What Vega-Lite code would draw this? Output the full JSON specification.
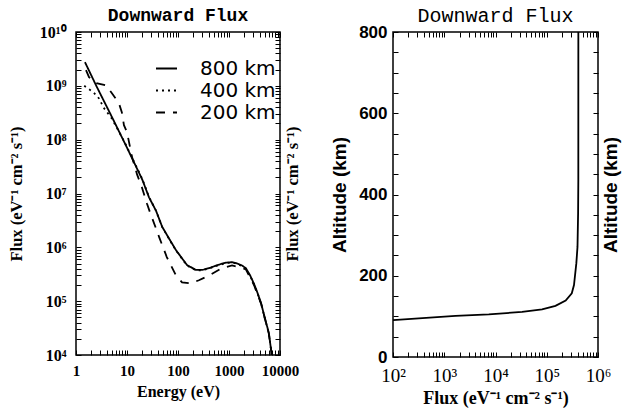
{
  "$schema": "https://vega.github.io/schema/vega-lite/v6.json",
  "background": "white",
  "padding": {"left": 7, "top": 5, "right": 5, "bottom": 5},
  "spacing": 113,
  "bounds": "flush",
  "config": {
    "view": {"stroke": "black", "strokeWidth": 1.5},
    "axis": {"grid": false, "ticks": true, "domain": false, "offset": -5, "tickSize": 5, "tickColor": "black", "tickWidth": 1, "labelColor": "black", "titleColor": "black", "labelOverlap": false, "labelFlush": false}
  },
  "hconcat": [
    {
      "title": {"text": "Downward Flux", "font": "Liberation Mono", "fontSize": 18, "fontWeight": "bold", "offset": -1, "color": "black"},
      "width": 204,
      "height": 323,
      "data": {"values": [
        {"s": "800 km", "e": 1.5, "f": 2.75e9},
        {"s": "800 km", "e": 2.5, "f": 1.0e9},
        {"s": "800 km", "e": 5, "f": 2.7e8},
        {"s": "800 km", "e": 10, "f": 7.1e7},
        {"s": "800 km", "e": 20, "f": 1.8e7},
        {"s": "800 km", "e": 27, "f": 8.5e6},
        {"s": "800 km", "e": 37, "f": 4.8e6},
        {"s": "800 km", "e": 49, "f": 2.4e6},
        {"s": "800 km", "e": 70, "f": 1.35e6},
        {"s": "800 km", "e": 91, "f": 8.9e5},
        {"s": "800 km", "e": 150, "f": 4.7e5},
        {"s": "800 km", "e": 224, "f": 3.8e5},
        {"s": "800 km", "e": 300, "f": 3.8e5},
        {"s": "800 km", "e": 407, "f": 4.1e5},
        {"s": "800 km", "e": 600, "f": 4.7e5},
        {"s": "800 km", "e": 870, "f": 5.2e5},
        {"s": "800 km", "e": 1150, "f": 5.3e5},
        {"s": "800 km", "e": 1380, "f": 5.1e5},
        {"s": "800 km", "e": 1800, "f": 4.6e5},
        {"s": "800 km", "e": 2140, "f": 4.1e5},
        {"s": "800 km", "e": 2600, "f": 3.0e5},
        {"s": "800 km", "e": 3090, "f": 2.1e5},
        {"s": "800 km", "e": 3600, "f": 1.45e5},
        {"s": "800 km", "e": 4270, "f": 9.1e4},
        {"s": "800 km", "e": 5000, "f": 5.0e4},
        {"s": "800 km", "e": 6030, "f": 2.6e4},
        {"s": "800 km", "e": 6900, "f": 1.0e4},
        {"s": "800 km", "e": 7300, "f": 6.0e3},
        {"s": "400 km", "e": 1.45, "f": 1.0e9},
        {"s": "400 km", "e": 2.2, "f": 7.6e8},
        {"s": "400 km", "e": 2.8, "f": 5.9e8},
        {"s": "400 km", "e": 3.5, "f": 3.9e8},
        {"s": "400 km", "e": 5, "f": 2.5e8},
        {"s": "400 km", "e": 7, "f": 1.4e8},
        {"s": "400 km", "e": 10, "f": 7.3e7},
        {"s": "400 km", "e": 20, "f": 1.85e7},
        {"s": "400 km", "e": 27, "f": 8.6e6},
        {"s": "400 km", "e": 37, "f": 4.8e6},
        {"s": "400 km", "e": 49, "f": 2.4e6},
        {"s": "400 km", "e": 70, "f": 1.33e6},
        {"s": "400 km", "e": 91, "f": 8.8e5},
        {"s": "400 km", "e": 150, "f": 4.6e5},
        {"s": "400 km", "e": 224, "f": 3.75e5},
        {"s": "400 km", "e": 300, "f": 3.75e5},
        {"s": "400 km", "e": 407, "f": 4.05e5},
        {"s": "400 km", "e": 600, "f": 4.6e5},
        {"s": "400 km", "e": 870, "f": 5.1e5},
        {"s": "400 km", "e": 1150, "f": 5.2e5},
        {"s": "400 km", "e": 1380, "f": 5.0e5},
        {"s": "400 km", "e": 1800, "f": 4.5e5},
        {"s": "400 km", "e": 2140, "f": 4.0e5},
        {"s": "400 km", "e": 2600, "f": 2.95e5},
        {"s": "400 km", "e": 3090, "f": 2.05e5},
        {"s": "400 km", "e": 3600, "f": 1.42e5},
        {"s": "400 km", "e": 4270, "f": 9.0e4},
        {"s": "400 km", "e": 5000, "f": 4.9e4},
        {"s": "400 km", "e": 6030, "f": 2.55e4},
        {"s": "400 km", "e": 6900, "f": 1.0e4},
        {"s": "400 km", "e": 7300, "f": 6.0e3},
        {"s": "200 km", "e": 1.57, "f": 1.95e9},
        {"s": "200 km", "e": 1.8, "f": 1.45e9},
        {"s": "200 km", "e": 2.51, "f": 1.12e9},
        {"s": "200 km", "e": 3.89, "f": 1.02e9},
        {"s": "200 km", "e": 4.9, "f": 7.6e8},
        {"s": "200 km", "e": 6.92, "f": 4.8e8},
        {"s": "200 km", "e": 7.94, "f": 3.2e8},
        {"s": "200 km", "e": 8.71, "f": 1.86e8},
        {"s": "200 km", "e": 10, "f": 1.38e8},
        {"s": "200 km", "e": 12.6, "f": 4.7e7},
        {"s": "200 km", "e": 15.8, "f": 2.24e7},
        {"s": "200 km", "e": 19.5, "f": 1.32e7},
        {"s": "200 km", "e": 24.5, "f": 6.6e6},
        {"s": "200 km", "e": 28.2, "f": 4.5e6},
        {"s": "200 km", "e": 42.7, "f": 1.55e6},
        {"s": "200 km", "e": 60.3, "f": 6.6e5},
        {"s": "200 km", "e": 91.2, "f": 3.0e5},
        {"s": "200 km", "e": 120, "f": 2.24e5},
        {"s": "200 km", "e": 178, "f": 2.14e5},
        {"s": "200 km", "e": 257, "f": 2.45e5},
        {"s": "200 km", "e": 407, "f": 3.0e5},
        {"s": "200 km", "e": 724, "f": 4.1e5},
        {"s": "200 km", "e": 1150, "f": 4.6e5},
        {"s": "200 km", "e": 1780, "f": 4.2e5},
        {"s": "200 km", "e": 2140, "f": 3.9e5},
        {"s": "200 km", "e": 3090, "f": 2.0e5},
        {"s": "200 km", "e": 4270, "f": 8.9e4},
        {"s": "200 km", "e": 6030, "f": 2.5e4},
        {"s": "200 km", "e": 6920, "f": 1.0e4},
        {"s": "200 km", "e": 7300, "f": 6.0e3}
      ]},
      "layer": [
        {
          "mark": {"type": "line", "color": "black", "strokeWidth": 1.8, "clip": true},
          "encoding": {
            "x": {"field": "e", "type": "quantitative",
              "scale": {"type": "log", "domain": [1, 10000], "nice": false},
              "axis": {"orient": "bottom",
                "values": [1,2,3,4,5,6,7,8,9,10,20,30,40,50,60,70,80,90,100,200,300,400,500,600,700,800,900,1000,2000,3000,4000,5000,6000,7000,8000,9000,10000],
                "labelExpr": "(datum.value==1||datum.value==10||datum.value==100||datum.value==1000||datum.value==10000) ? ''+datum.value : ''",
                "labelFont": "Liberation Serif", "labelFontWeight": "bold", "labelFontSize": 15, "labelPadding": 8,
                "title": "Energy (eV)", "titleFont": "Liberation Serif", "titleFontWeight": "bold", "titleFontSize": 16,
                "titleX": 102, "titleY": 41, "titleBaseline": "middle", "titleAlign": "center"}},
            "y": {"field": "f", "type": "quantitative",
              "scale": {"type": "log", "domain": [10000, 10000000000], "nice": false},
              "axis": {"orient": "left",
                "values": [10000,20000,30000,40000,50000,60000,70000,80000,90000,100000,200000,300000,400000,500000,600000,700000,800000,900000,1000000,2000000,3000000,4000000,5000000,6000000,7000000,8000000,9000000,10000000,20000000,30000000,40000000,50000000,60000000,70000000,80000000,90000000,100000000,200000000,300000000,400000000,500000000,600000000,700000000,800000000,900000000,1000000000,2000000000,3000000000,4000000000,5000000000,6000000000,7000000000,8000000000,9000000000,10000000000],
                "labelExpr": "datum.value==10000?'10⁴':datum.value==100000?'10⁵':datum.value==1000000?'10⁶':datum.value==10000000?'10⁷':datum.value==100000000?'10⁸':datum.value==1000000000?'10⁹':datum.value==10000000000?'10¹⁰':''",
                "labelFont": "Liberation Serif", "labelFontWeight": "bold", "labelFontSize": 16, "labelPadding": 10,
                "title": "Flux (eV⁻¹ cm⁻² s⁻¹)", "titleFont": "Liberation Serif", "titleFontWeight": "bold", "titleFontSize": 16.5,
                "titleX": -65, "titleY": 161.5, "titleAngle": -90, "titleBaseline": "middle", "titleAlign": "center"}},
            "strokeDash": {"field": "s", "type": "nominal",
              "scale": {"domain": ["800 km", "400 km", "200 km"], "range": [[1, 0], [2, 4], [9, 8]]},
              "legend": {"orient": "none", "legendX": 79, "legendY": 25, "title": null, "symbolType": "stroke", "symbolSize": 441, "symbolStrokeWidth": 2, "symbolStrokeColor": "black", "labelFont": "DejaVu Sans", "labelFontSize": 20, "labelOffset": 22, "rowPadding": 0, "labelLimit": 300, "labelColor": "black"}}
          }
        },
        {
          "mark": {"type": "line", "opacity": 0, "clip": true},
          "encoding": {
            "x": {"field": "e", "type": "quantitative",
              "scale": {"type": "log", "domain": [1, 10000], "nice": false},
              "axis": {"orient": "top", "labels": false, "title": null,
                "values": [1,2,3,4,5,6,7,8,9,10,20,30,40,50,60,70,80,90,100,200,300,400,500,600,700,800,900,1000,2000,3000,4000,5000,6000,7000,8000,9000,10000]}},
            "y": {"field": "f", "type": "quantitative",
              "scale": {"type": "log", "domain": [10000, 10000000000], "nice": false},
              "axis": {"orient": "right", "labels": false,
                "values": [10000,20000,30000,40000,50000,60000,70000,80000,90000,100000,200000,300000,400000,500000,600000,700000,800000,900000,1000000,2000000,3000000,4000000,5000000,6000000,7000000,8000000,9000000,10000000,20000000,30000000,40000000,50000000,60000000,70000000,80000000,90000000,100000000,200000000,300000000,400000000,500000000,600000000,700000000,800000000,900000000,1000000000,2000000000,3000000000,4000000000,5000000000,6000000000,7000000000,8000000000,9000000000,10000000000],
                "title": "Flux (eV⁻¹ cm⁻² s⁻¹)", "titleFont": "Liberation Serif", "titleFontWeight": "bold", "titleFontSize": 16.5,
                "titleX": 17, "titleY": 161.5, "titleAngle": -90, "titleBaseline": "middle", "titleAlign": "center"}},
            "detail": {"field": "s", "type": "nominal"}
          }
        }
      ],
      "resolve": {"axis": {"x": "independent", "y": "independent"}}
    },
    {
      "title": {"text": "Downward Flux", "font": "Liberation Mono", "fontSize": 20, "fontWeight": "normal", "offset": -3, "color": "black"},
      "width": 205,
      "height": 325,
      "data": {"values": [
        {"i": 1, "flux": 100, "alt": 91},
        {"i": 2, "flux": 1660, "alt": 101},
        {"i": 3, "flux": 7400, "alt": 105},
        {"i": 4, "flux": 33000, "alt": 111},
        {"i": 5, "flux": 81000, "alt": 117},
        {"i": 6, "flux": 148000, "alt": 126},
        {"i": 7, "flux": 234000, "alt": 139},
        {"i": 8, "flux": 308000, "alt": 157},
        {"i": 9, "flux": 340000, "alt": 177},
        {"i": 10, "flux": 378000, "alt": 231},
        {"i": 11, "flux": 398000, "alt": 271},
        {"i": 12, "flux": 409000, "alt": 354},
        {"i": 13, "flux": 413000, "alt": 436},
        {"i": 14, "flux": 413500, "alt": 800}
      ]},
      "layer": [
        {
          "mark": {"type": "line", "color": "black", "strokeWidth": 1.8, "clip": true},
          "encoding": {
            "x": {"field": "flux", "type": "quantitative",
              "scale": {"type": "log", "domain": [100, 1000000], "nice": false},
              "axis": {"orient": "bottom",
                "values": [100,200,300,400,500,600,700,800,900,1000,2000,3000,4000,5000,6000,7000,8000,9000,10000,20000,30000,40000,50000,60000,70000,80000,90000,100000,200000,300000,400000,500000,600000,700000,800000,900000,1000000],
                "labelExpr": "datum.value==100?'10²':datum.value==1000?'10³':datum.value==10000?'10⁴':datum.value==100000?'10⁵':datum.value==1000000?'10⁶':''",
                "labelFont": "Liberation Serif", "labelFontSize": 19, "labelPadding": 9,
                "title": "Flux (eV⁻¹ cm⁻² s⁻¹)", "titleFont": "Liberation Serif", "titleFontSize": 18,
                "titleX": 102.5, "titleY": 46, "titleBaseline": "middle", "titleAlign": "center"}},
            "y": {"field": "alt", "type": "quantitative",
              "scale": {"domain": [0, 800], "nice": false},
              "axis": {"orient": "left",
                "values": [0,50,100,150,200,250,300,350,400,450,500,550,600,650,700,750,800],
                "labelExpr": "datum.value % 200 == 0 ? ''+datum.value : ''",
                "labelFont": "Liberation Sans", "labelFontWeight": "bold", "labelFontSize": 17, "labelPadding": 6,
                "title": "Altitude (km)", "titleFont": "Liberation Sans", "titleFontWeight": "bold", "titleFontSize": 19,
                "titleX": -59, "titleY": 162.5, "titleAngle": -90, "titleBaseline": "middle", "titleAlign": "center"}},
            "order": {"field": "i", "type": "quantitative"}
          }
        },
        {
          "mark": {"type": "line", "opacity": 0, "clip": true},
          "encoding": {
            "x": {"field": "flux", "type": "quantitative",
              "scale": {"type": "log", "domain": [100, 1000000], "nice": false},
              "axis": {"orient": "top", "labels": false, "title": null,
                "values": [100,200,300,400,500,600,700,800,900,1000,2000,3000,4000,5000,6000,7000,8000,9000,10000,20000,30000,40000,50000,60000,70000,80000,90000,100000,200000,300000,400000,500000,600000,700000,800000,900000,1000000]}},
            "y": {"field": "alt", "type": "quantitative",
              "scale": {"domain": [0, 800], "nice": false},
              "axis": {"orient": "right", "labels": false,
                "values": [0,50,100,150,200,250,300,350,400,450,500,550,600,650,700,750,800],
                "title": "Altitude (km)", "titleFont": "Liberation Sans", "titleFontWeight": "bold", "titleFontSize": 19,
                "titleX": 17, "titleY": 162.5, "titleAngle": -90, "titleBaseline": "middle", "titleAlign": "center"}},
            "order": {"field": "i", "type": "quantitative"}
          }
        }
      ],
      "resolve": {"axis": {"x": "independent", "y": "independent"}}
    }
  ]
}
